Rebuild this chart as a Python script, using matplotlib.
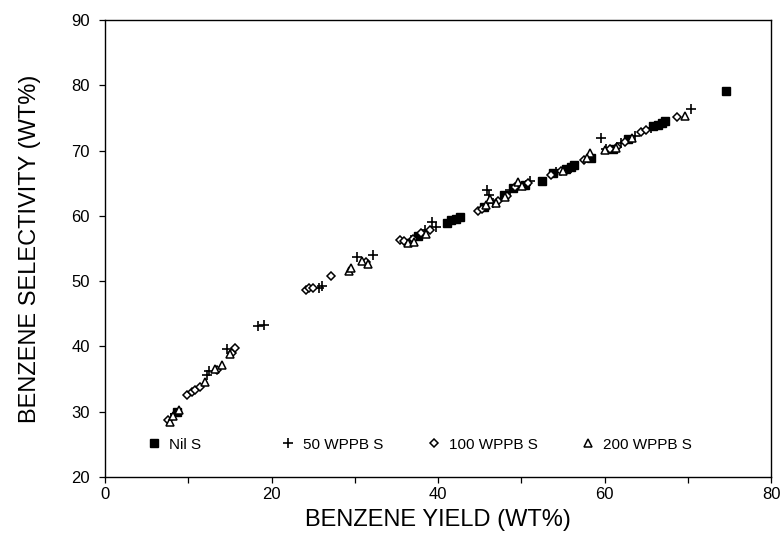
import matplotlib
matplotlib.use("Agg")
import matplotlib.pyplot as plt
from matplotlib.legend import Legend
from matplotlib.ticker import MultipleLocator

plt.rcParams['font.family'] = ['Liberation Sans', 'DejaVu Sans']

# Benzene yield (wt%) and selectivity (wt%) for each sulphur level
nil_x = [8.7, 41.1, 41.6, 42.2, 42.6, 47.9, 50.4, 52.5, 55.3, 55.9, 56.3, 58.3,
         61.0, 62.8, 65.8, 66.4, 66.9, 67.2, 74.6, 37.6, 45.5, 49.0, 53.8]
nil_y = [30.0, 58.9, 59.3, 59.6, 59.9, 63.2, 64.8, 65.4, 67.2, 67.5, 67.8, 68.9,
         70.3, 71.8, 73.8, 74.0, 74.3, 74.6, 79.1, 56.9, 61.4, 64.3, 66.5]

s50_x = [7.9, 8.4, 12.3, 12.5, 14.6, 18.4, 19.1, 25.7, 26.0, 30.3, 32.2, 36.7,
         38.4, 39.3, 39.7, 45.9, 46.1, 46.6, 48.6, 51.0, 54.2, 56.0, 59.6, 60.2,
         62.0, 63.6, 65.6, 66.6, 70.4]
s50_y = [29.0, 29.7, 35.7, 36.2, 39.6, 43.1, 43.3, 49.0, 49.2, 53.7, 54.0, 56.3,
         57.9, 59.0, 58.3, 64.0, 63.2, 62.0, 63.9, 65.3, 66.8, 67.3, 72.0, 70.2,
         71.1, 72.2, 73.5, 73.9, 76.4]

s100_x = [7.6, 9.9, 10.4, 10.8, 11.4, 13.5, 15.2, 15.6, 24.1, 24.5, 25.0, 27.1,
          31.3, 35.4, 35.9, 37.0, 38.0, 39.0, 44.8, 45.3, 47.2, 48.3, 49.2, 50.8,
          53.5, 54.7, 57.5, 60.6, 61.5, 62.4, 64.3, 64.9, 68.7]
s100_y = [28.7, 32.5, 33.0, 33.4, 33.8, 36.4, 39.0, 39.8, 48.6, 48.9, 49.0, 50.8,
          52.9, 56.3, 56.1, 56.5, 57.4, 57.8, 60.8, 61.0, 62.3, 63.0, 64.5, 65.0,
          66.2, 66.9, 68.6, 70.3, 70.5, 71.4, 72.8, 73.1, 75.2]

s200_x = [7.8, 8.2, 8.9, 12.0, 13.2, 14.0, 15.0, 29.3, 29.5, 30.8, 31.6, 36.4,
          37.1, 38.6, 45.7, 46.2, 47.0, 48.0, 49.6, 50.1, 55.0, 58.2, 57.9, 60.0,
          61.3, 63.3, 69.6]
s200_y = [28.5, 29.3, 30.3, 34.6, 36.5, 37.2, 38.9, 51.6, 52.0, 53.1, 52.7, 55.8,
          56.0, 57.2, 61.6, 62.6, 62.0, 62.9, 65.2, 64.6, 66.9, 69.7, 68.9, 70.1,
          70.4, 72.0, 75.3]

labels = ["Nil S", "50 WPPB S", "100 WPPB S", "200 WPPB S"]

fig = plt.figure(figsize=(7.82, 5.43), dpi=100)
ax = fig.add_axes([0.1343, 0.1215, 0.852, 0.8415])

h0, = ax.plot(nil_x, nil_y, linestyle='none', marker='s', ms=5.5, mfc='black',
              mec='black', label=labels[0])
h1, = ax.plot(s50_x, s50_y, linestyle='none', marker='+', ms=7, mew=1.2,
              color='black', label=labels[1])
h2, = ax.plot(s100_x, s100_y, linestyle='none', marker='D', ms=4.5, mfc='white',
              mec='black', mew=1.1, label=labels[2])
h3, = ax.plot(s200_x, s200_y, linestyle='none', marker='^', ms=6, mfc='white',
              mec='black', mew=1.1, label=labels[3])

ax.set_xlim(0, 80)
ax.set_ylim(20, 90)
ax.xaxis.set_major_locator(MultipleLocator(20))
ax.xaxis.set_minor_locator(MultipleLocator(10))
ax.yaxis.set_major_locator(MultipleLocator(10))
ax.tick_params(which='both', direction='out', length=4, width=0.9, color='black',
               labelsize=12, top=False, right=False)
ax.tick_params(axis='y', pad=7)
for s in ax.spines.values():
    s.set_linewidth(1.0)
    s.set_color('black')

ax.set_xlabel("BENZENE YIELD (WT%)", fontsize=17, labelpad=5)
ax.set_ylabel("BENZENE SELECTIVITY (WT%)", fontsize=17, labelpad=22)

# one legend entry per group, spread along the bottom of the plot area
entry_x = [0.064, 0.265, 0.484, 0.716]
for handle, label, xpos in zip([h0, h1, h2, h3], labels, entry_x):
    leg = Legend(ax, [handle], [label], loc='center left',
                 bbox_to_anchor=(xpos, 0.071), frameon=False, fontsize=11,
                 handlelength=0.8, handletextpad=0.6, borderpad=0, borderaxespad=0)
    ax.add_artist(leg)

fig.savefig("out.png", dpi=100)
